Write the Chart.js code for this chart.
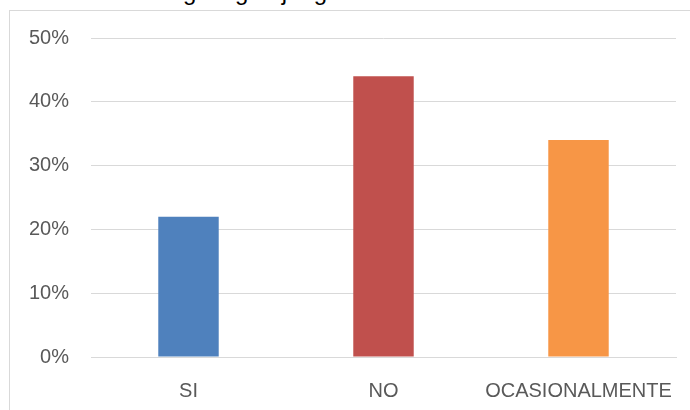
<!DOCTYPE html>
<html lang="es">
<head>
    <meta charset="UTF-8">
    <title>Gráfica</title>
    <script src="https://cdn.jsdelivr.net/npm/chart.js"></script>
    <style>
        body { margin: 0; background: #fff; }
        #wrap { position: relative; width: 690px; height: 410px; overflow: hidden; }
        #frame { position: absolute; left: 9px; top: 10px; width: 700px; height: 420px;
                 border-left: 1px solid #d9d9d9; border-top: 1px solid #d9d9d9; }
        #title { position: absolute; left: 0; top: -22px; font: 24px "Liberation Sans", Arial, sans-serif;
                 color: #000; white-space: nowrap; }
        canvas { position: absolute; left: 0; top: 0; }
    </style>
</head>
<body>
<div id="wrap">
    <div id="frame"></div>
    <div id="title">Gráfica N° 8: Juego algún juego en redes sociales</div>
    <canvas id="chart" width="690" height="410"></canvas>
</div>
<script>
    const categories = ['SI', 'NO', 'OCASIONALMENTE'];
    const values = [22, 44, 34];
    const barColors = ['#4F81BD', '#C0504D', '#F79646'];
    const yTicks = [0, 10, 20, 30, 40, 50];

    const font = { family: '"Liberation Sans", Arial, sans-serif', size: 20 };

    new Chart(document.getElementById('chart'), {
        type: 'bar',
        data: {
            labels: categories,
            datasets: [{
                data: values,
                backgroundColor: barColors,
                borderWidth: 0,
                barPercentage: 0.31,
                categoryPercentage: 1
            }]
        },
        options: {
            responsive: false,
            animation: false,
            layout: { padding: { left: 0, right: 14, top: 38, bottom: 0 } },
            plugins: { legend: { display: false }, tooltip: { enabled: false } },
            scales: {
                x: {
                    grid: { display: false, drawTicks: false },
                    border: { display: true, color: '#d9d9d9', width: 1 },
                    ticks: { color: '#595959', font: font, padding: 22, maxRotation: 0 },
                    afterFit: s => { s.height = 53; s.paddingLeft = 0; s.paddingRight = 0; }
                },
                y: {
                    min: 0,
                    max: 50,
                    afterBuildTicks: s => { s.ticks = yTicks.map(v => ({ value: v })); },
                    grid: { color: '#d9d9d9', lineWidth: 1, drawTicks: false },
                    border: { display: false },
                    ticks: { color: '#595959', font: font, padding: 22, callback: v => v + '%' },
                    afterFit: s => { s.width = 91; }
                }
            }
        }
    });
</script>
</body>
</html>
